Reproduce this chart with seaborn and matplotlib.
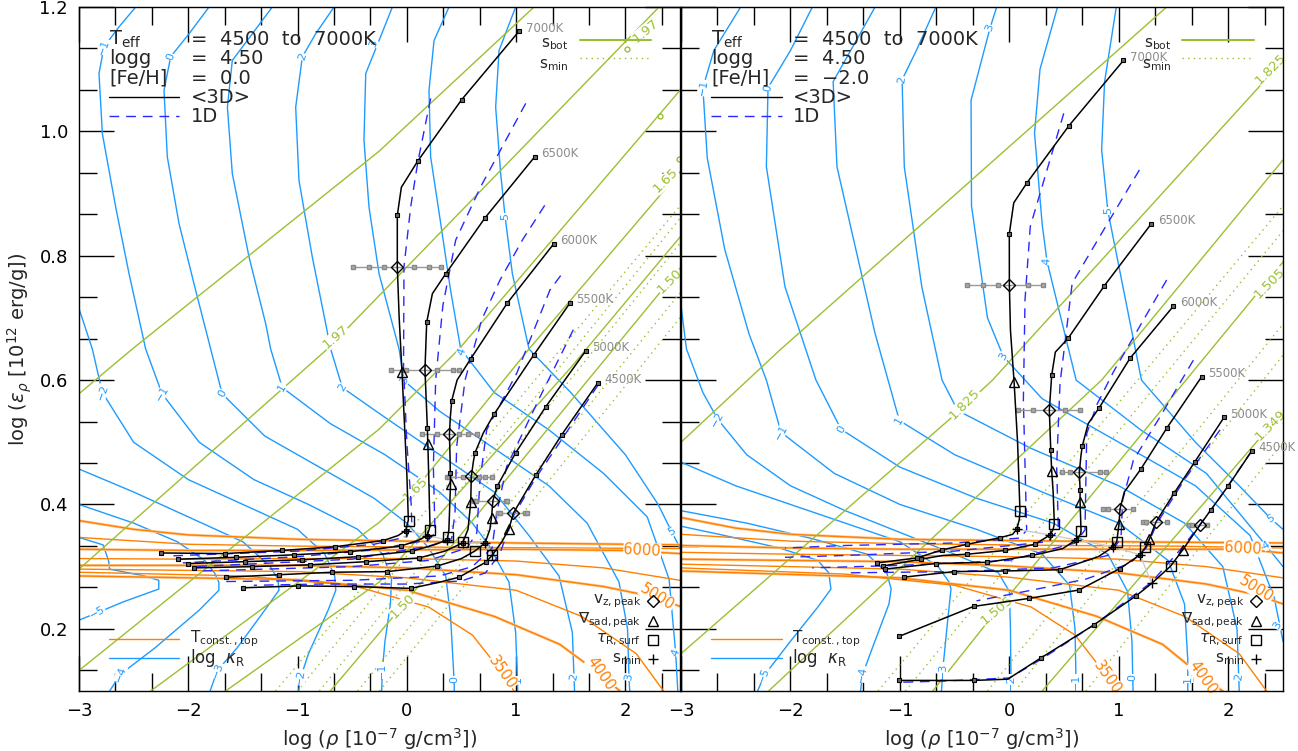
import numpy as np
import pandas as pd
import matplotlib
matplotlib.use("Agg")
import matplotlib.pyplot as plt
from matplotlib.ticker import MultipleLocator
import seaborn as sns

sns.set_theme(style="ticks")
plt.rcParams['font.family'] = ['DejaVu Sans']
plt.rcParams['mathtext.fontset'] = 'dejavusans'

# ---------------------------------------------------------------- tracks <3D>
teffs = ["7000K", "6500K", "6000K", "5500K", "5000K", "4500K"]

L7000 = [(-2.253,0.322),(-1.667,0.321),(-1.145,0.326),(-0.657,0.332),(-0.215,0.342),(-0.08,0.350),(-0.010,0.358),(0.014,0.375),(0.0,0.45),(-0.044,0.613),(-0.07,0.70),(-0.087,0.782),(-0.087,0.865),(-0.05,0.91),(0.099,0.952),(0.502,1.051),(1.027,1.161)]
L6500 = [(-2.091,0.312),(-1.566,0.315),(-1.032,0.319),(-0.523,0.324),(-0.056,0.333),(0.10,0.342),(0.188,0.350),(0.212,0.365),(0.20,0.45),(0.188,0.523),(0.166,0.617),(0.175,0.66),(0.182,0.693),(0.234,0.739),(0.356,0.771),(0.716,0.861),(1.170,0.959)]
L6000 = [(-2.0,0.305),(-1.484,0.308),(-0.956,0.311),(-0.444,0.316),(0.051,0.325),(0.25,0.335),(0.371,0.343),(0.385,0.36),(0.40,0.433),(0.395,0.48),(0.39,0.513),(0.398,0.54),(0.411,0.567),(0.46,0.60),(0.584,0.634),(0.920,0.724),(1.344,0.819)]
L5500 = [(-1.948,0.298),(-1.414,0.300),(-0.886,0.303),(-0.37,0.308),(0.112,0.314),(0.35,0.325),(0.51,0.338),(0.56,0.36),(0.585,0.404),(0.59,0.445),(0.61,0.47),(0.624,0.483),(0.70,0.515),(0.798,0.545),(1.16,0.64),(1.493,0.724)]
L5000 = [(-1.658,0.283),(-1.170,0.287),(-0.681,0.291),(-0.178,0.292),(0.279,0.301),(0.50,0.313),(0.622,0.325),(0.716,0.338),(0.76,0.36),(0.775,0.379),(0.788,0.406),(0.829,0.430),(0.996,0.483),(1.271,0.557),(1.637,0.647)]
L4500 = [(-1.496,0.266),(-0.996,0.269),(-0.48,0.268),(0.035,0.265),(0.30,0.275),(0.478,0.283),(0.65,0.30),(0.722,0.307),(0.78,0.318),(0.87,0.34),(0.935,0.361),(0.975,0.386),(1.179,0.447),(1.417,0.512),(1.750,0.596)]

R7000 = [(-1.21,0.306),(-0.844,0.314),(-0.614,0.327),(-0.384,0.336),(-0.085,0.3465),(0.03,0.352),(0.067,0.36),(0.09,0.375),(0.097,0.389),(0.075,0.5),(0.043,0.5975),(0.01,0.68),(0.0,0.753),(-0.0006,0.835),(0.04,0.885),(0.16,0.917),(0.544,1.009),(1.042,1.114)]
R6500 = [(-1.157,0.301),(-0.806,0.312),(-0.606,0.318),(-0.384,0.320),(-0.039,0.326),(0.234,0.336),(0.372,0.351),(0.40,0.36),(0.411,0.369),(0.40,0.42),(0.387,0.453),(0.378,0.488),(0.365,0.552),(0.387,0.608),(0.42,0.645),(0.536,0.667),(0.869,0.752),(1.295,0.851)]
R6000 = [(-1.14,0.296),(-0.672,0.305),(-0.2,0.307),(0.21,0.318),(0.487,0.329),(0.609,0.343),(0.65,0.352),(0.655,0.357),(0.646,0.404),(0.646,0.424),(0.639,0.452),(0.655,0.48),(0.667,0.4945),(0.72,0.53),(0.819,0.555),(1.102,0.635),(1.499,0.719)]
R5500 = [(-0.967,0.283),(-0.507,0.292),(-0.039,0.293),(0.459,0.295),(0.813,0.316),(0.95,0.332),(0.981,0.340),(1.002,0.369),(1.011,0.393),(1.05,0.42),(1.200,0.4565),(1.437,0.5224),(1.757,0.6055)]
R5000 = [(-1.005,0.188),(-0.327,0.236),(0.183,0.249),(0.636,0.2624),(1.011,0.297),(1.194,0.319),(1.243,0.331),(1.279,0.344),(1.34,0.372),(1.505,0.418),(1.696,0.469),(1.961,0.540)]
R4500 = [(-1.005,0.117),(-0.624,0.117),(-0.327,0.117),(-0.015,0.119),(0.287,0.153),(0.77,0.206),(1.157,0.253),(1.30,0.273),(1.474,0.301),(1.584,0.327),(1.742,0.367),(1.84,0.391),(2.0,0.430),(2.214,0.486)]

# grid points marked along each track
mL7000 = [(-2.253,0.322),(-1.667,0.321),(-1.145,0.326),(-0.657,0.332),(-0.215,0.342),(-0.010,0.358),(-0.087,0.865),(0.099,0.952),(0.502,1.051),(1.027,1.161)]
mL6500 = [(-2.091,0.312),(-1.566,0.315),(-1.032,0.319),(-0.523,0.324),(-0.056,0.333),(0.188,0.350),(0.188,0.523),(0.182,0.693),(0.356,0.771),(0.716,0.861),(1.170,0.959)]
mL6000 = [(-2.0,0.305),(-1.484,0.308),(-0.956,0.311),(-0.444,0.316),(0.051,0.325),(0.371,0.343),(0.395,0.450),(0.411,0.567),(0.584,0.634),(0.920,0.724),(1.344,0.819)]
mL5500 = [(-1.948,0.298),(-1.414,0.300),(-0.886,0.303),(-0.37,0.308),(0.112,0.314),(0.51,0.338),(0.624,0.483),(0.798,0.545),(1.16,0.64),(1.493,0.724)]
mL5000 = [(-1.658,0.283),(-1.170,0.287),(-0.681,0.291),(-0.178,0.292),(0.279,0.301),(0.716,0.338),(0.829,0.430),(0.996,0.483),(1.271,0.557),(1.637,0.647)]
mL4500 = [(-1.496,0.266),(-0.996,0.269),(-0.48,0.268),(0.035,0.265),(0.478,0.283),(0.722,0.307),(1.179,0.447),(1.417,0.512),(1.750,0.596)]

mR7000 = [(-1.21,0.306),(-0.844,0.314),(-0.614,0.327),(-0.384,0.336),(-0.085,0.3465),(0.067,0.36),(-0.0006,0.835),(0.16,0.917),(0.544,1.009),(1.042,1.114)]
mR6500 = [(-1.157,0.301),(-0.806,0.312),(-0.384,0.320),(-0.039,0.326),(0.234,0.336),(0.372,0.351),(0.378,0.488),(0.387,0.608),(0.536,0.667),(0.869,0.752),(1.295,0.851)]
mR6000 = [(-1.14,0.296),(-0.672,0.305),(-0.2,0.307),(0.21,0.318),(0.609,0.343),(0.646,0.424),(0.667,0.4945),(0.819,0.555),(1.102,0.635),(1.499,0.719)]
mR5500 = [(-0.967,0.283),(-0.507,0.292),(-0.039,0.293),(0.459,0.295),(0.95,0.332),(1.200,0.4565),(1.437,0.5224),(1.757,0.6055)]
mR5000 = [(-1.005,0.188),(-0.327,0.236),(0.183,0.249),(0.636,0.2624),(1.011,0.297),(1.194,0.319),(1.505,0.418),(1.696,0.469),(1.961,0.540)]
mR4500 = [(-1.005,0.117),(-0.327,0.117),(0.287,0.153),(0.77,0.206),(1.157,0.253),(1.84,0.391),(2.0,0.430),(2.214,0.486)]

# characteristic points: v_z,peak (diamond), grad_ad peak (triangle), tau_R surface (square), s_min (plus)
diaL = [(-0.087,0.782),(0.166,0.617),(0.39,0.513),(0.59,0.445),(0.788,0.406),(0.975,0.386)]
triL = [(-0.044,0.613),(0.197,0.497),(0.401,0.433),(0.585,0.404),(0.775,0.379),(0.935,0.361)]
sqL  = [(0.017,0.374),(0.212,0.359),(0.38,0.348),(0.51,0.34),(0.622,0.325),(0.78,0.318)]
plL  = [(-0.010,0.358),(0.188,0.350),(0.371,0.343),(0.51,0.338),(0.716,0.338),(0.78,0.318)]
diaR = [(0.0,0.753),(0.365,0.552),(0.639,0.452),(1.011,0.393),(1.34,0.372),(1.742,0.367)]
triR = [(0.043,0.5975),(0.387,0.453),(0.646,0.404),(1.002,0.369),(1.279,0.344),(1.584,0.327)]
sqR  = [(0.097,0.389),(0.411,0.369),(0.655,0.357),(0.981,0.340),(1.243,0.331),(1.474,0.301)]
plR  = [(0.067,0.36),(0.372,0.351),(0.609,0.343),(0.95,0.332),(1.194,0.319),(1.30,0.273)]

# spread of v_z,peak (grey bars): y, then sample positions in log rho
errL = [(0.782,[-0.495,-0.348,-0.209,0.066,0.203,0.31]),
        (0.616,[-0.145,-0.005,0.28,0.42,0.475]),
        (0.513,[0.14,0.28,0.48,0.56,0.645]),
        (0.444,[0.37,0.39,0.51,0.66,0.72,0.78]),
        (0.406,[0.615,0.63,0.905,0.92]),
        (0.386,[0.83,0.85,1.08,1.10])]
errR = [(0.753,[-0.384,-0.238,-0.104,0.172,0.307]),
        (0.552,[0.082,0.22,0.509,0.646]),
        (0.452,[0.48,0.554,0.828,0.88]),
        (0.393,[0.853,0.9,1.133]),
        (0.372,[1.218,1.25,1.437]),
        (0.367,[1.64,1.666,1.803])]

# ---------------------------------------------------------------- 1D models
dL7000 = [(0.218,1.053),(0.10,0.95),(0.035,0.878),(-0.026,0.782),(-0.03,0.62),(0.0,0.50),(0.04,0.40),(0.045,0.37),(0.0,0.348),(-0.3,0.336),(-1.0,0.325),(-2.2,0.317)]
dL6500 = [(1.088,1.045),(0.676,0.911),(0.447,0.825),(0.33,0.72),(0.264,0.6),(0.243,0.461),(0.258,0.354),(0.2,0.343),(-0.3,0.327),(-1.0,0.316),(-2.05,0.306)]
dL6000 = [(1.262,0.881),(1.057,0.825),(0.853,0.761),(0.685,0.697),(0.533,0.6),(0.456,0.493),(0.441,0.386),(0.41,0.345),(0.2,0.333),(-0.5,0.312),(-1.95,0.300)]
dL5500 = [(1.408,0.768),(1.31,0.745),(1.006,0.611),(0.731,0.52),(0.67,0.439),(0.64,0.354),(0.55,0.33),(0.2,0.31),(-0.5,0.300),(-1.9,0.293)]
dL5000 = [(1.524,0.681),(1.219,0.573),(0.914,0.461),(0.822,0.386),(0.78,0.33),(0.6,0.3),(0.3,0.285),(-0.5,0.278),(-1.7,0.276)]
dL4500 = [(1.75,0.592),(1.40,0.50),(1.17,0.44),(0.97,0.38),(0.85,0.32),(0.72,0.29),(0.5,0.277),(0.0,0.272),(-0.8,0.272),(-1.4,0.27)]

dR7000 = [(0.497,1.029),(0.191,0.847),(0.143,0.729),(0.128,0.568),(0.158,0.359),(0.10,0.346),(-0.5,0.338),(-1.5,0.334),(-2.05,0.33)]
dR6500 = [(1.188,0.938),(0.843,0.836),(0.574,0.756),(0.463,0.595),(0.432,0.461),(0.448,0.359),(0.35,0.34),(-0.5,0.325),(-1.5,0.318),(-2.05,0.315)]
dR6000 = [(1.437,0.761),(1.226,0.697),(0.95,0.613),(0.798,0.56),(0.707,0.514),(0.691,0.359),(0.6,0.338),(0.0,0.31),(-1.0,0.302),(-1.8,0.298)]
dR5500 = [(1.681,0.632),(1.377,0.541),(1.133,0.471),(1.035,0.407),(1.02,0.345),(0.9,0.318),(0.4,0.298),(-0.5,0.292),(-1.5,0.29)]
dR5000 = [(1.925,0.52),(1.6,0.44),(1.35,0.37),(1.25,0.33),(1.1,0.305),(0.7,0.28),(0.2,0.262),(-0.3,0.245)]
dR4500 = [(2.214,0.486),(1.9,0.405),(1.6,0.335),(1.3,0.275),(0.77,0.206),(0.3,0.152),(0.0,0.121),(-0.6,0.116),(-1.0,0.114)]

# ---------------------------------------------------------------- Rosseland opacity contours (log kappa_R)
kL_m5 = [(-3,0.347),(-2.78,0.335),(-2.73,0.31),(-2.72,0.296),(-2.4,0.285),(-2.27,0.278),(-2.27,0.264),(-2.6,0.243),(-2.83,0.226),(-3,0.214)]
kL_m4 = [(-3,0.40),(-2.5,0.37),(-2.1,0.34),(-1.85,0.31),(-1.76,0.29),(-1.72,0.275),(-1.72,0.262),(-1.9,0.23),(-2.3,0.17),(-2.62,0.127),(-2.72,0.1)]
kL_m3 = [(-3,0.457),(-2.5,0.42),(-2.0,0.38),(-1.5,0.34),(-1.25,0.30),(-1.18,0.28),(-1.17,0.262),(-1.3,0.23),(-1.55,0.17),(-1.734,0.133),(-1.8,0.1)]
kL_m2 = [(-3,0.715),(-2.878,0.65),(-2.786,0.58),(-2.5,0.50),(-2.0,0.44),(-1.5,0.40),(-1.0,0.36),(-0.75,0.32),(-0.66,0.285),(-0.65,0.262),(-0.72,0.23),(-0.9,0.16),(-0.971,0.122),(-0.99,0.1)]
kL_m1 = [(-2.481,1.2),(-2.634,1.168),(-2.771,1.136),(-2.817,1.093),(-2.786,0.996),(-2.664,0.878),(-2.542,0.771),(-2.39,0.65),(-2.24,0.578),(-1.9,0.50),(-1.4,0.44),(-0.9,0.40),(-0.45,0.36),(-0.22,0.32),(-0.14,0.28),(-0.15,0.24),(-0.2,0.18),(-0.224,0.133),(-0.23,0.1)]
kL_0 = [(-1.81,1.2),(-1.993,1.157),(-2.161,1.12),(-2.222,1.066),(-2.192,0.959),(-2.085,0.852),(-1.932,0.744),(-1.795,0.65),(-1.69,0.578),(-1.3,0.51),(-0.8,0.46),(-0.3,0.41),(0.0,0.37),(0.2,0.33),(0.356,0.285),(0.40,0.221),(0.432,0.119),(0.435,0.1)]
kL_1 = [(-1.231,1.2),(-1.414,1.157),(-1.597,1.114),(-1.642,1.039),(-1.597,0.932),(-1.444,0.798),(-1.292,0.691),(-1.246,0.65),(-1.14,0.588),(-0.7,0.53),(-0.2,0.48),(0.3,0.42),(0.6,0.37),(0.752,0.334),(0.935,0.275),(0.996,0.194),(1.012,0.119),(1.015,0.1)]
kL_2 = [(-0.666,1.2),(-0.834,1.157),(-0.956,1.12),(-1.017,1.039),(-0.987,0.921),(-0.865,0.798),(-0.743,0.691),(-0.697,0.65),(-0.59,0.588),(-0.2,0.54),(0.3,0.48),(0.8,0.42),(1.118,0.35),(1.393,0.285),(1.515,0.194),(1.53,0.122),(1.535,0.1)]
kL_3 = [(-0.132,1.2),(-0.2545,1.146),(-0.376,1.093),(-0.392,0.986),(-0.346,0.878),(-0.254,0.771),(-0.071,0.65),(-0.026,0.599),(0.3,0.55),(0.8,0.49),(1.3,0.43),(1.65,0.37),(1.942,0.275),(2.02,0.2),(2.033,0.122),(2.04,0.1)]
kL_4 = [(0.386,1.2),(0.249,1.146),(0.203,1.066),(0.218,0.959),(0.31,0.852),(0.401,0.744),(0.493,0.65),(0.8,0.58),(1.3,0.52),(1.8,0.45),(2.2,0.38),(2.4,0.28),(2.46,0.162),(2.48,0.1)]
kL_5 = [(0.996,1.2),(0.844,1.13),(0.813,1.039),(0.859,0.932),(0.899,0.863),(0.966,0.771),(1.118,0.65),(1.5,0.58),(2.0,0.48),(2.3,0.40),(2.424,0.356),(2.5,0.33)]

kR_m5 = [(-3,0.365),(-2.6,0.35),(-2.1,0.33),(-1.75,0.31),(-1.65,0.29),(-1.63,0.264),(-1.75,0.235),(-2.0,0.18),(-2.24,0.125),(-2.3,0.1)]
kR_m4 = [(-3,0.39),(-2.4,0.37),(-1.8,0.345),(-1.3,0.32),(-1.12,0.29),(-1.08,0.264),(-1.1,0.24),(-1.25,0.17),(-1.34,0.127),(-1.36,0.1)]
kR_m3 = [(-3,0.468),(-2.5,0.43),(-2.0,0.40),(-1.5,0.37),(-1.0,0.34),(-0.65,0.30),(-0.55,0.275),(-0.533,0.264),(-0.56,0.22),(-0.609,0.133),(-0.62,0.1)]
kR_m2 = [(-3,0.72),(-2.95,0.65),(-2.8,0.58),(-2.665,0.537),(-2.4,0.48),(-2.0,0.43),(-1.5,0.39),(-1.0,0.355),(-0.5,0.32),(-0.1,0.29),(0.0,0.26),(0.01,0.2),(0.015,0.114),(0.02,0.1)]
kR_m1 = [(-2.455,1.2),(-2.7,1.13),(-2.8,1.07),(-2.76,0.957),(-2.6,0.81),(-2.38,0.675),(-2.22,0.6),(-2.086,0.516),(-1.6,0.45),(-1.0,0.40),(-0.3,0.36),(0.3,0.32),(0.55,0.27),(0.6,0.2),(0.609,0.114),(0.61,0.1)]
kR_0 = [(-1.8,1.2),(-2.0,1.13),(-2.205,1.07),(-2.22,0.943),(-2.05,0.75),(-1.767,0.6),(-1.538,0.521),(-1.0,0.46),(-0.3,0.41),(0.4,0.37),(0.9,0.32),(1.08,0.26),(1.12,0.18),(1.13,0.1)]
kR_1 = [(-1.227,1.2),(-1.45,1.13),(-1.61,1.08),(-1.575,0.943),(-1.227,0.675),(-1.005,0.535),(-0.5,0.48),(0.3,0.42),(1.0,0.37),(1.45,0.31),(1.6,0.24),(1.63,0.15),(1.63,0.1)]
kR_2 = [(-0.672,1.2),(-0.85,1.13),(-0.98,1.083),(-0.96,0.943),(-0.8,0.75),(-0.615,0.6),(-0.472,0.551),(0.2,0.49),(1.0,0.43),(1.6,0.37),(1.95,0.3),(2.08,0.2),(2.1,0.1)]
kR_3 = [(-0.116,1.2),(-0.177,1.166),(-0.35,1.05),(-0.346,0.88),(-0.2,0.70),(-0.055,0.638),(0.3,0.57),(1.0,0.50),(1.7,0.43),(2.2,0.35),(2.42,0.25),(2.5,0.18)]
kR_4 = [(0.44,1.2),(0.28,1.1),(0.23,0.997),(0.30,0.85),(0.344,0.791),(0.61,0.6),(1.2,0.52),(1.8,0.45),(2.345,0.334),(2.5,0.30)]
kR_5 = [(0.977,1.2),(0.87,1.08),(0.843,0.97),(0.90,0.872),(1.207,0.6),(1.7,0.5),(2.1,0.43),(2.39,0.377),(2.5,0.36)]

kapL_lab = [("-1", -2.771, 1.136, 70), ("0", -2.161, 1.12, 70), ("2", -0.956, 1.12, 70), ("3", -0.3, 1.141, 70),
            ("5", 0.899, 0.863, 90), ("4", 0.502, 0.645, 70), ("-2", -2.786, 0.58, 70), ("-1", -2.24, 0.578, 60),
            ("0", -1.69, 0.578, 60), ("1", -1.14, 0.588, 60), ("2", -0.59, 0.588, 60), ("3", -0.026, 0.599, 60),
            ("-5", -2.83, 0.226, 30), ("-4", -2.62, 0.127, 70), ("-3", -1.734, 0.133, 70), ("-2", -0.971, 0.122, 80),
            ("-1", -0.224, 0.133, 90), ("0", 0.432, 0.119, 90), ("1", 1.012, 0.119, 90), ("2", 1.53, 0.122, 80),
            ("3", 2.033, 0.122, 80), ("4", 2.46, 0.162, 70), ("5", 2.424, 0.356, 30)]
kapR_lab = [("-1", -2.8, 1.07, 80), ("0", -2.205, 1.07, 80), ("2", -0.98, 1.083, 80), ("3", -0.177, 1.166, 70),
            ("5", 0.90, 0.872, 90), ("4", 0.344, 0.791, 85), ("3", -0.055, 0.638, 60), ("-2", -2.665, 0.537, 60),
            ("-1", -2.086, 0.516, 60), ("0", -1.538, 0.521, 60), ("1", -1.005, 0.535, 60), ("2", -0.472, 0.551, 60),
            ("-5", -2.24, 0.125, 70), ("-4", -1.34, 0.127, 80), ("-3", -0.609, 0.133, 90),
            ("-2", 0.015, 0.114, 90), ("-1", 0.609, 0.114, 90), ("0", 1.127, 0.122, 90), ("1", 1.629, 0.119, 90),
            ("2", 2.1, 0.122, 80), ("3", 2.45, 0.205, 60), ("4", 2.345, 0.334, 30), ("5", 2.39, 0.377, 30)]

# ---------------------------------------------------------------- temperature at the top (T_const.,top)
oL = [[(-3,0.374),(-2.5,0.36),(-2,0.351),(-1,0.344),(0,0.341),(1,0.338),(2.5,0.335)],
      [(-3,0.347),(-2,0.336),(-1,0.333),(0.5,0.331),(1.5,0.33),(2.5,0.329)],
      [(-3,0.328),(-2,0.326),(-1,0.326),(0,0.327),(1,0.328),(2.0,0.326),(2.5,0.321)],
      [(-3,0.313),(-2,0.312),(-1,0.313),(0,0.313),(1,0.309),(1.8,0.298),(2.5,0.278)],
      [(-3,0.302),(-1,0.302),(0,0.298),(1,0.287),(1.8,0.268),(2.3,0.25),(2.5,0.236)],
      [(-3,0.296),(-1,0.292),(0,0.282),(1,0.262),(1.6,0.22),(2.1,0.16),(2.35,0.1)],
      [(-3,0.285),(-1,0.279),(0,0.262),(0.8,0.22),(1.4,0.175),(1.77,0.127),(1.95,0.1)],
      [(-3,0.291),(-1.5,0.285),(-0.5,0.27),(0.2,0.235),(0.6,0.19),(0.87,0.13),(0.98,0.1)]]
oR = [[(-3,0.379),(-2.5,0.362),(-2,0.352),(-1,0.344),(0,0.342),(1,0.340),(2.5,0.338)],
      [(-3,0.352),(-2,0.341),(-1,0.337),(0.5,0.334),(1.5,0.333),(2.5,0.330)],
      [(-3,0.334),(-2,0.330),(-1,0.328),(0,0.328),(1,0.328),(2.13,0.328),(2.5,0.322)],
      [(-3,0.323),(-2,0.320),(-1,0.318),(0,0.316),(1,0.312),(1.8,0.300),(2.5,0.282)],
      [(-3,0.312),(-1,0.308),(0,0.301),(1,0.29),(1.8,0.272),(2.25,0.255),(2.5,0.240)],
      [(-3,0.304),(-1,0.296),(0,0.283),(1,0.262),(1.6,0.22),(2.1,0.16),(2.35,0.1)],
      [(-3,0.293),(-1,0.282),(0,0.262),(0.8,0.22),(1.4,0.175),(1.77,0.122),(1.95,0.1)],
      [(-3,0.298),(-1.5,0.288),(-0.5,0.27),(0.2,0.235),(0.6,0.19),(0.9,0.122),(1.0,0.1)]]
oL_lab = [("6000",2.155,0.326,-3),("5000",2.293,0.251,-32),("4000",1.774,0.127,-55),("3500",0.874,0.13,-55)]
oR_lab = [("6000",2.132,0.329,-3),("5000",2.254,0.264,-32),("4000",1.766,0.122,-55),("3500",0.898,0.122,-55)]

# ---------------------------------------------------------------- isentropes: s_bot (solid), s_min (dotted)
gL_bot = [[(-3,0.578),(-2.512,0.650),(-0.254,0.968),(1.164,1.2)],
          [(-3,0.296),(-0.727,0.65),(2.308,1.2)],
          [(-3,0.133),(-0.254,0.521),(0.478,0.650),(2.5,1.066)],
          [(-2.344,0.1),(-0.254,0.371),(0.081,0.425),(1.118,0.65),(2.5,0.935)],
          [(-1.658,0.1),(-0.254,0.275),(1.5,0.62),(2.5,0.83)],
          [(-0.7,0.1),(-0.041,0.237),(2.5,0.78)]]
gL_min = [[(-1.2,0.1),(2.5,0.88)],[(-1.0,0.1),(2.5,0.86)],[(-0.8,0.1),(2.5,0.82)],
          [(-0.45,0.1),(2.5,0.74)],[(-0.25,0.1),(2.5,0.70)]]
gL_dot = [(2.016,1.132),(2.317,1.025),(2.49,0.956)]
gL_lab = [("1.97",-0.651,0.669,40),("1.97",2.186,1.162,40),("1.65",0.081,0.425,45),("1.65",2.369,0.921,45),("1.50",-0.041,0.237,45),("1.50",2.4,0.76,45)]

gR_bot = [[(-3,0.5),(-2.086,0.65),(1.437,1.2)],
          [(-3,0.16),(-0.442,0.553),(-0.154,0.6),(2.49,1.112)],
          [(-2.2,0.1),(0.843,0.6),(2.5,0.954)],
          [(-0.7,0.1),(-0.115,0.2295),(2.5,0.79)],
          [(0.3,0.1),(2.5,0.55)]]
gR_min = [[(-1.2,0.1),(2.5,0.88)],[(-0.95,0.1),(2.5,0.84)],[(-0.2,0.1),(2.5,0.69)],
          [(0.05,0.1),(2.5,0.64)],[(0.7,0.1),(2.5,0.50)]]
gR_dot = []
gR_lab = [("1.825",-0.41,0.562,45),("1.825",2.39,1.10,45),("1.505",-0.115,0.2295,40),("1.505",2.377,0.756,45),("1.349",2.39,0.527,45)]

# ---------------------------------------------------------------- drawing helpers
OR = "#ff8000"
ORL = "#ffcc99"
KB = "#1e9bff"
GR = "#9ac031"
DB = "#2828ff"


def xy(pts):
    a = np.asarray(pts, dtype=float)
    return a[:, 0], a[:, 1]


def line(ax, pts, **kw):
    x, y = xy(pts)
    ax.plot(x, y, **kw)


def panel(ax, tracks, marks, dashed, kap, kap_lab, orng, orng_lab, gbot, gmin, gdot, glab,
          dia, tri, sq, pl, err, feh):
    for pts in kap:
        line(ax, pts, color=KB, lw=1.0, zorder=1)
    for txt, x, y, r in kap_lab:
        ax.text(x, y, txt.replace("-", "\u2212"), color=KB, fontsize=8, rotation=r, ha="center",
                va="center", zorder=2, bbox=dict(fc="white", ec="none", pad=0.1))
    for i, pts in enumerate(orng):
        if i % 2 == 0:
            line(ax, pts, color=ORL, lw=2.0, zorder=1)
        line(ax, pts, color=OR, lw=1.0, zorder=1)
    for txt, x, y, r in orng_lab:
        ax.text(x, y, txt, color=OR, fontsize=10.5, rotation=r, ha="center", va="center",
                zorder=2, bbox=dict(fc="white", ec="none", pad=0.2))
    for pts in gbot:
        line(ax, pts, color=GR, lw=1.0, zorder=1)
    for pts in gmin:
        line(ax, pts, color=GR, lw=1.0, ls=(0, (1, 3)), zorder=1)
    if gdot:
        x, y = xy(gdot)
        ax.plot(x, y, ls="none", marker="o", ms=3.5, mfc="none", mec=GR, zorder=2)
    for txt, x, y, r in glab:
        ax.text(x, y, txt, color=GR, fontsize=9.5, rotation=r, ha="center", va="center",
                zorder=2, bbox=dict(fc="white", ec="none", pad=0.1))
    for pts in dashed:
        line(ax, pts, color=DB, lw=1.0, ls=(0, (7, 5)), zorder=3)
    x, y = xy(pl)
    ax.plot(x, y, color="#cccccc", lw=1.0, zorder=3)
    for y, xs in err:
        ax.plot([min(xs), max(xs)], [y, y], color="#999999", lw=1.0, zorder=4)
        ax.plot(xs, [y] * len(xs), ls="none", marker="s", ms=3, mfc="#aaaaaa", mec="#888888", zorder=4)
    for name, pts in zip(teffs, tracks):
        x, y = xy(pts)
        df = pd.DataFrame({"x": x, "y": y})
        sns.lineplot(data=df, x="x", y="y", sort=False, estimator=None, color="black",
                     lw=1.1, ax=ax, zorder=5)
        ax.text(x[-1] + 0.06, y[-1] + 0.005, name, color="#8c8c8c", fontsize=8.5,
                ha="left", va="center", zorder=6)
    for pts in marks:
        x, y = xy(pts)
        ax.plot(x, y, ls="none", marker="s", ms=3.4, mfc="#666666", mec="black", mew=0.8, zorder=6)
    x, y = xy(dia)
    ax.plot(x, y, ls="none", marker="D", ms=6, mfc="none", mec="black", mew=1.0, zorder=7)
    x, y = xy(tri)
    ax.plot(x, y, ls="none", marker="^", ms=7, mfc="none", mec="black", mew=1.0, zorder=7)
    x, y = xy(sq)
    ax.plot(x, y, ls="none", marker="s", ms=7.5, mfc="none", mec="black", mew=1.0, zorder=7)
    x, y = xy(pl)
    ax.plot(x, y, ls="none", marker="+", ms=7, mec="black", mew=1.0, zorder=7)

    ax.set_xlim(-3, 2.5)
    ax.set_ylim(0.1, 1.2)
    ax.xaxis.set_minor_locator(MultipleLocator(1 / 3))
    ax.yaxis.set_minor_locator(MultipleLocator(0.2 / 3))
    ax.tick_params(which="both", direction="in", top=True, right=True, colors="black",
                   labelsize=13, width=1.0)
    ax.tick_params(which="major", length=25, pad=8)
    ax.tick_params(which="minor", length=13)
    for s in ax.spines.values():
        s.set_color("black")
        s.set_linewidth(1.0)
    ax.set_xlabel(r"log ($\rho$ [10$^{-7}$ g/cm$^3$])", fontsize=14)
    ax.set_ylabel("")

    # header text
    tx = dict(transform=ax.transAxes, fontsize=14, va="center", ha="left", zorder=8)
    ax.text(0.05, 0.952, r"T$_{\rm eff}$", **tx)
    ax.text(0.186, 0.952, "=  4500  to  7000K", **tx)
    ax.text(0.05, 0.924, "logg", **tx)
    ax.text(0.186, 0.924, "=  4.50", **tx)
    ax.text(0.05, 0.896, "[Fe/H]", **tx)
    ax.text(0.186, 0.896, "=  " + feh, **tx)
    ax.plot([0.05, 0.167], [0.868, 0.868], color="black", lw=1.0, transform=ax.transAxes, zorder=8)
    ax.text(0.186, 0.868, "<3D>", **tx)
    ax.plot([0.05, 0.167], [0.840, 0.840], color=DB, lw=1.0, ls=(0, (7, 5)), transform=ax.transAxes, zorder=8)
    ax.text(0.186, 0.840, "1D", **tx)

    # isentrope key
    tk = dict(transform=ax.transAxes, fontsize=11, va="center", ha="right", zorder=8)
    ax.text(0.815, 0.946, r"s$_{\rm bot}$", **tk)
    ax.text(0.815, 0.915, r"s$_{\rm min}$", **tk)
    ax.plot([0.833, 0.952], [0.952, 0.952], color=GR, lw=1.5, transform=ax.transAxes, zorder=8)
    ax.plot([0.833, 0.952], [0.925, 0.925], color=GR, lw=1.0, ls=(0, (1, 3)), transform=ax.transAxes, zorder=8)

    # lower-left key
    ax.plot([0.05, 0.167], [0.076, 0.076], color=OR, lw=1.0, transform=ax.transAxes, zorder=8)
    ax.text(0.185, 0.076, r"T$_{\rm const.,top}$", transform=ax.transAxes, fontsize=11, va="center", zorder=8)
    ax.plot([0.05, 0.167], [0.048, 0.048], color=KB, lw=1.0, transform=ax.transAxes, zorder=8)
    ax.text(0.185, 0.048, r"log  $\kappa_{\rm R}$", transform=ax.transAxes, fontsize=12, va="center", zorder=8)

    # lower-right key
    keys = [(r"v$_{\rm z,peak}$", "D", 6), (r"$\nabla_{\rm sad,peak}$", "^", 7),
            (r"$\tau_{\rm R,surf}$", "s", 7.5), (r"s$_{\rm min}$", "+", 7)]
    for k, (lab, m, ms) in enumerate(keys):
        yy = 0.131 - k * 0.028
        ax.text(0.935, yy, lab, transform=ax.transAxes, fontsize=11, va="center", ha="right", zorder=8)
        ax.plot([0.955], [yy], marker=m, ms=ms, mfc="none", mec="black", mew=1.0, ls="none",
                transform=ax.transAxes, zorder=8)


fig = plt.figure(figsize=(12.98, 7.51), dpi=100)
axL = fig.add_axes([79 / 1298, 1 - 691 / 751, 601 / 1298, 684 / 751])
axR = fig.add_axes([681 / 1298, 1 - 691 / 751, 602 / 1298, 684 / 751])

panel(axL, [L7000, L6500, L6000, L5500, L5000, L4500],
      [mL7000, mL6500, mL6000, mL5500, mL5000, mL4500],
      [dL7000, dL6500, dL6000, dL5500, dL5000, dL4500],
      [kL_m5, kL_m4, kL_m3, kL_m2, kL_m1, kL_0, kL_1, kL_2, kL_3, kL_4, kL_5], kapL_lab,
      oL, oL_lab, gL_bot, gL_min, gL_dot, gL_lab,
      diaL, triL, sqL, plL, errL, "0.0")
panel(axR, [R7000, R6500, R6000, R5500, R5000, R4500],
      [mR7000, mR6500, mR6000, mR5500, mR5000, mR4500],
      [dR7000, dR6500, dR6000, dR5500, dR5000, dR4500],
      [kR_m5, kR_m4, kR_m3, kR_m2, kR_m1, kR_0, kR_1, kR_2, kR_3, kR_4, kR_5], kapR_lab,
      oR, oR_lab, gR_bot, gR_min, gR_dot, gR_lab,
      diaR, triR, sqR, plR, errR, "\u22122.0")

xt = [-3, -2, -1, 0, 1, 2]
xtl = ["\u22123", "\u22122", "\u22121", "0", "1", "2"]
yt = [0.2, 0.4, 0.6, 0.8, 1.0, 1.2]
for ax in (axL, axR):
    ax.set_xticks(xt)
    ax.set_xticklabels(xtl)
    ax.set_yticks(yt)
    ax.set_xlim(-3, 2.5)
    ax.set_ylim(0.1, 1.2)
axL.set_yticklabels(["0.2", "0.4", "0.6", "0.8", "1.0", "1.2"])
axR.set_yticklabels([])

fig.text(20 / 1298, 1 - 349 / 751, r"log ($\epsilon_\rho$ [10$^{12}$ erg/g])", rotation=90,
         ha="center", va="center", fontsize=14)

fig.savefig("out.png", dpi=100, facecolor="white")
